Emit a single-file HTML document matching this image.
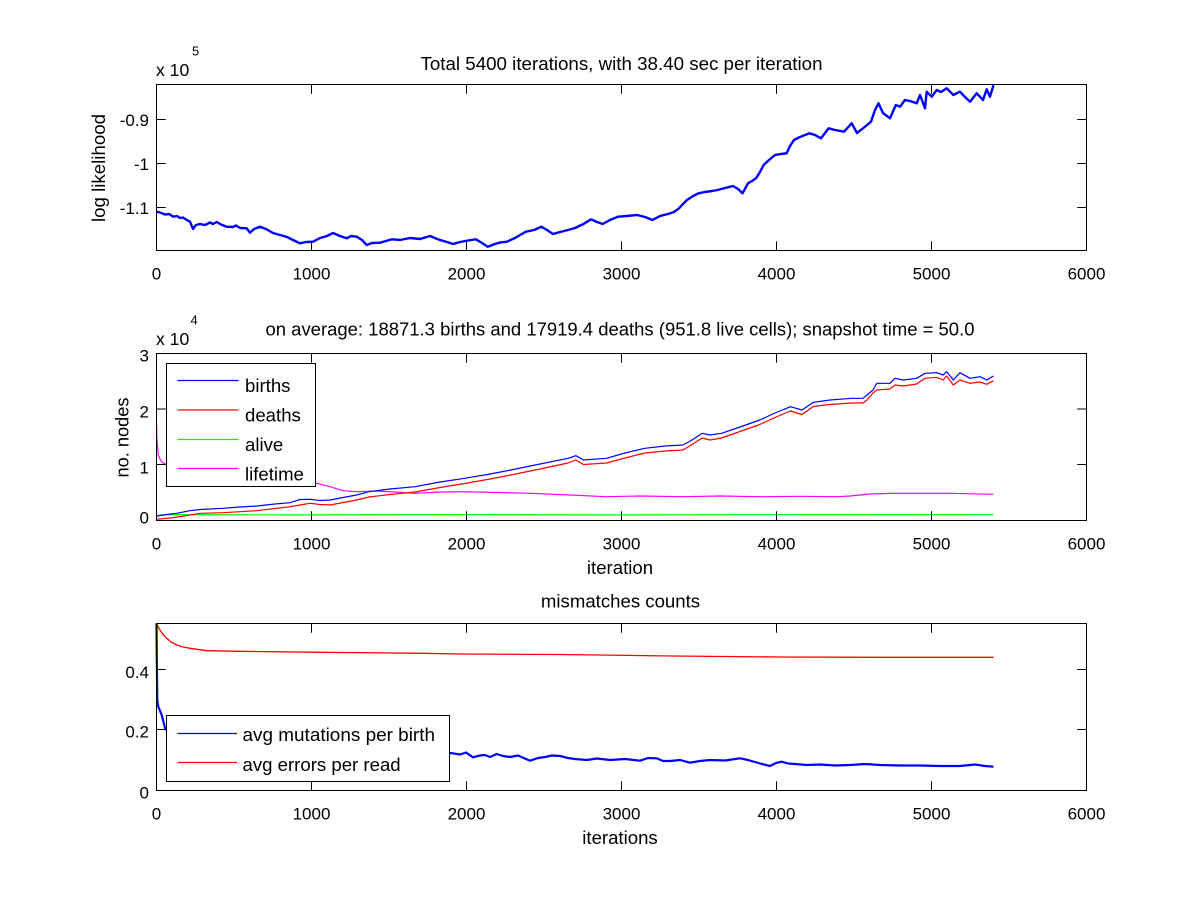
<!DOCTYPE html>
<html>
<head>
<meta charset="utf-8">
<style>
html,body{margin:0;padding:0;background:#fff;}
svg{display:block;}
text{font-family:"Liberation Sans",Arial,Helvetica,sans-serif;fill:#000;}
.tk{font-size:17px;}
.lb{font-size:18.6px;}
</style>
</head>
<body>
<svg width="1200" height="900" viewBox="0 0 1200 900" xmlns="http://www.w3.org/2000/svg">
<rect x="0" y="0" width="1200" height="900" fill="#fff"/>

<!-- ================= PLOT 1 ================= -->
<g fill="none" stroke-linejoin="round">
<polyline stroke="#0000ff" stroke-width="2.4" points="156.5,211.7 160,212.5 165,214.5 169,214 173.3,216.7 177,216 180,218 183,217.5 186,219.5 190,221.7 193,229 196,225 200,224 205,225 210,222.5 213,224 216.7,222 221,224.5 226.7,226.7 233,227 236,225.5 240,228 246.7,228.3 250,232.7 254,229 260,226.7 266,229 273,233 280,235 287,237 293,240 300,243.3 306,242 313,241.7 320,238 327,236 333,233 340,236 346.7,238.3 351,236 356.7,236.7 362,240 366.7,245 372,243 380,242.7 386,241 392,239.3 400,240 410,238 420,239 430,236 436,238.5 440,240 447,242 453,244 460,242 468,240.5 476,239.3 482,243 487.7,246.7 495,244 500,242.5 507,241.7 515,238 520,235 526,231.7 534,230 541.4,226.7 547,230 553,234 560,232 568,230 575,228 583.5,224 591,219.3 597,222 602.7,224 610,220 618,216.7 627,216 637,215 645,217 652.5,220 660,216 668,214 674,212 679,208.3 683,204 687,200 693,196 698.5,193.3 705,192 712,191 717.6,190 725,188 733,186 738,189 742.5,193.3 748,183.3 752,181 756,178.3 760,172 763.6,165 769,160 775,155 781,154 786.6,153.3 790,146 794,140 800,137 809.6,133.3 815,135 821,138.3 825,133 828.7,128.3 835,130 844,131.7 851.7,123.3 857,133 863,128.3 867,125 871,121.7 875,110 878.5,103.3 883,113 890,118.3 895.8,105 900,106.7 905,100 910,101 916.7,103.3 920,95 925,108.3 926.7,91.7 931.7,96.7 936.7,90 941,92 946.7,88.3 953.3,95 960,91.7 965,97 970,101.7 976.7,93.3 983,100 986.7,89.3 990,96.7 993.5,85"/>
</g>
<g stroke="#000" stroke-width="1" fill="none">
<rect x="156.5" y="84.5" width="930" height="166"/>
<path d="M156.5,250.5v-9.3 M311.5,250.5v-9.3 M466.5,250.5v-9.3 M621.5,250.5v-9.3 M776.5,250.5v-9.3 M931.5,250.5v-9.3 M1086.5,250.5v-9.3
M156.5,84.5v9.3 M311.5,84.5v9.3 M466.5,84.5v9.3 M621.5,84.5v9.3 M776.5,84.5v9.3 M931.5,84.5v9.3 M1086.5,84.5v9.3
M156.5,119.5h9.3 M156.5,163.5h9.3 M156.5,207.5h9.3
M1086.5,119.5h-9.3 M1086.5,163.5h-9.3 M1086.5,207.5h-9.3"/>
</g>
<g class="tk" text-anchor="middle">
<text x="156.5" y="279.5">0</text>
<text x="311.5" y="279.5">1000</text>
<text x="466.5" y="279.5">2000</text>
<text x="621.5" y="279.5">3000</text>
<text x="776.5" y="279.5">4000</text>
<text x="931.5" y="279.5">5000</text>
<text x="1086.5" y="279.5">6000</text>
</g>
<g class="tk" text-anchor="end">
<text x="149" y="126">-0.9</text>
<text x="149" y="169.8">-1</text>
<text x="149" y="214">-1.1</text>
</g>
<text class="tk" x="156" y="76" style="font-size:17.6px">x 10</text>
<text x="192" y="55.5" style="font-size:13px">5</text>
<text class="lb" x="621.5" y="70" text-anchor="middle" textLength="402" lengthAdjust="spacingAndGlyphs">Total 5400 iterations, with 38.40 sec per iteration</text>
<text class="lb" transform="translate(105,168) rotate(-90)" text-anchor="middle" textLength="108" lengthAdjust="spacingAndGlyphs">log likelihood</text>

<!-- ================= PLOT 2 ================= -->
<g fill="none" stroke-linejoin="round" stroke-width="1.2">
<polyline stroke="#00ff00" points="156.5,516.7 160,515 170,514.6 300,514.9 450,514.6 600,514.9 750,514.7 900,514.6 993.5,514.7"/>
<polyline stroke="#ff00ff" points="156.5,423.3 157,440 158.3,455 160,459 161.7,461.7 166.7,465 200,470 250,476 300,481 316.7,483.3 330,486.7 343,490.7 356.7,491.7 376.6,491 395,492 415,493.3 440,492 461,491.7 500,492.5 530,493.3 570,495 606.5,496.7 640,496 683,496.7 720,496 759.8,496.7 800,496.3 836.4,496.7 850,496 870,494 893,493.3 950,493.3 993.5,494.3"/>
<polyline stroke="#ff0000" points="156.5,519.3 170,518 180,516.7 200,513.3 223,512.7 256.7,510.7 290,506.7 300,505 310,503.3 320,504.5 330,505 356.7,500 369,497 390,494.5 415,492 440,487.5 464.8,483.5 490,479 510.7,475 540,469 568,463 575.9,460 583.5,464.5 606.5,463 625,458 644.8,453 665,451 683,450 692,444.5 702.3,438 710,440 721.5,438 740,431.5 759.8,424.5 775,417.5 790.4,411 802,414.5 813.4,406.5 830,404.5 851.7,403 863,403 867,400 873,393 876.7,390 890,389 895,385 903,386 916.7,384 925,378.3 936.7,377.3 943,380 946.7,376 953.3,385 960,380 970,383.3 980,382 986.7,384.3 993.5,380.7"/>
<polyline stroke="#0000ff" points="156.5,516 166.7,514.5 176.7,513.3 190,510.7 200,509.5 223,508.3 240,507 256.7,506 275,504 290,502.7 300,499.5 310,499.3 320,500.5 330,500 343,497.5 356.7,495 369,491.7 390,489 415,486.7 440,482 464.8,478.3 490,474 510.7,470 540,464 568,458.3 575.9,455.7 583.5,460 606.5,458.3 625,453 644.8,448.3 665,446 683,445 692,440 702.3,433.3 710,435 721.5,433.3 740,427 759.8,420 775,413 790.4,406.7 802,410 813.4,402.3 830,400 851.7,398.3 863,398.3 867,395 873,390 876.7,383.3 890,383.3 895,378.3 903,380 916.7,378.3 925,373.3 936.7,372.7 943,375 946.7,371.7 953.3,380 960,372.7 970,378.3 980,376.7 986.7,380 993.5,376"/>
</g>
<g stroke="#000" stroke-width="1" fill="none">
<rect x="156.5" y="353.5" width="930" height="167"/>
<path d="M156.5,520.5v-9.3 M311.5,520.5v-9.3 M466.5,520.5v-9.3 M621.5,520.5v-9.3 M776.5,520.5v-9.3 M931.5,520.5v-9.3 M1086.5,520.5v-9.3
M156.5,353.5v9.3 M311.5,353.5v9.3 M466.5,353.5v9.3 M621.5,353.5v9.3 M776.5,353.5v9.3 M931.5,353.5v9.3 M1086.5,353.5v9.3
M156.5,409h9.3 M156.5,464.5h9.3
M1086.5,409h-9.3 M1086.5,464.5h-9.3"/>
</g>
<g class="tk" text-anchor="middle">
<text x="156.5" y="549.5">0</text>
<text x="311.5" y="549.5">1000</text>
<text x="466.5" y="549.5">2000</text>
<text x="621.5" y="549.5">3000</text>
<text x="776.5" y="549.5">4000</text>
<text x="931.5" y="549.5">5000</text>
<text x="1086.5" y="549.5">6000</text>
</g>
<g class="tk" text-anchor="end">
<text x="149" y="523.5">0</text>
<text x="149" y="473.5">1</text>
<text x="149" y="417.5">2</text>
<text x="149" y="361.5">3</text>
</g>
<text class="tk" x="156" y="345" style="font-size:17.6px">x 10</text>
<text x="190.5" y="324.5" style="font-size:13px">4</text>
<text class="lb" x="620" y="335.7" text-anchor="middle" textLength="709" lengthAdjust="spacingAndGlyphs">on average: 18871.3 births and 17919.4 deaths (951.8 live cells); snapshot time = 50.0</text>
<text class="lb" transform="translate(128.3,437.5) rotate(-90)" text-anchor="middle" textLength="80" lengthAdjust="spacingAndGlyphs">no. nodes</text>
<text class="lb" x="620" y="574" text-anchor="middle">iteration</text>

<!-- legend 2 -->
<rect x="166.5" y="363.5" width="149" height="123" fill="#fff" stroke="#000" stroke-width="1"/>
<g stroke-width="1.2">
<line x1="177.5" y1="380.5" x2="238.5" y2="380.5" stroke="#0000ff"/>
<line x1="177.5" y1="410" x2="238.5" y2="410" stroke="#ff0000"/>
<line x1="177.5" y1="439.5" x2="238.5" y2="439.5" stroke="#00ff00"/>
<line x1="177.5" y1="468.5" x2="238.5" y2="468.5" stroke="#ff00ff"/>
</g>
<g class="lb">
<text x="245" y="392">births</text>
<text x="245" y="421.5">deaths</text>
<text x="245" y="451">alive</text>
<text x="245" y="480.5">lifetime</text>
</g>

<!-- ================= PLOT 3 ================= -->
<g fill="none" stroke-linejoin="round">
<polyline stroke="#ff0000" stroke-width="1.3" points="156.5,623.5 158,627 160,630 163,634.5 166.7,638.3 171,642 176.7,645 183,647 190,648.3 206.7,650.7 240,651.3 323.3,652.3 423.3,653.3 460,654 560,654.5 673,656 780,657 880,657.3 993.5,657.3"/>
<polyline stroke="#0000ff" stroke-width="2.2" points="156.5,623.5 156.8,660 157.3,700 158.3,706.7 161.7,715 165,728 166.7,730 180,735 200,740 250,745 300,748 350,750 400,751.5 449,753 453,753.3 460,754.5 466,752.5 473,757.3 480,755.5 485,755 490,757 496.7,754 503,756 510,757 518,755.5 530,760.7 538,758 545,757 552,755.5 560,756 568,758 575,759 586.7,760 597,758.5 610,760 625,759 640,760.7 648,758 656.7,758.3 663,761 670,761 680,760 690,762.7 700,761 710,760 725,760.5 740,758.3 748,760 755,762 762,764 770,766 776,763 781.7,761.7 788,763.5 795,764 806.7,765 820,764.5 835,765.5 850,765 865,764 880,765 900,765.5 920,765.5 940,766 960,766 975,764.5 985,766 993.5,766.7"/>
</g>
<g stroke="#000" stroke-width="1" fill="none">
<rect x="156.5" y="623.5" width="930" height="167"/>
<path d="M156.5,790.5v-9.3 M311.5,790.5v-9.3 M466.5,790.5v-9.3 M621.5,790.5v-9.3 M776.5,790.5v-9.3 M931.5,790.5v-9.3 M1086.5,790.5v-9.3
M156.5,623.5v9.3 M311.5,623.5v9.3 M466.5,623.5v9.3 M621.5,623.5v9.3 M776.5,623.5v9.3 M931.5,623.5v9.3 M1086.5,623.5v9.3
M156.5,669.5h9.3 M156.5,729.5h9.3
M1086.5,669.5h-9.3 M1086.5,729.5h-9.3"/>
</g>
<g class="tk" text-anchor="middle">
<text x="156.5" y="819.5">0</text>
<text x="311.5" y="819.5">1000</text>
<text x="466.5" y="819.5">2000</text>
<text x="621.5" y="819.5">3000</text>
<text x="776.5" y="819.5">4000</text>
<text x="931.5" y="819.5">5000</text>
<text x="1086.5" y="819.5">6000</text>
</g>
<g class="tk" text-anchor="end">
<text x="149" y="798.5">0</text>
<text x="149" y="737.5">0.2</text>
<text x="149" y="678">0.4</text>
</g>
<text class="lb" x="620.5" y="607.5" text-anchor="middle">mismatches counts</text>
<text class="lb" x="620" y="844" text-anchor="middle">iterations</text>

<!-- legend 3 -->
<rect x="166.5" y="715.5" width="283" height="66" fill="#fff" stroke="#000" stroke-width="1"/>
<g stroke-width="1.2">
<line x1="177.5" y1="733.5" x2="237" y2="733.5" stroke="#0000ff"/>
<line x1="177.5" y1="762.5" x2="237" y2="762.5" stroke="#ff0000"/>
</g>
<g class="lb">
<text x="242.5" y="741" textLength="192.5" lengthAdjust="spacingAndGlyphs">avg mutations per birth</text>
<text x="242.5" y="771">avg errors per read</text>
</g>
</svg>
</body>
</html>
